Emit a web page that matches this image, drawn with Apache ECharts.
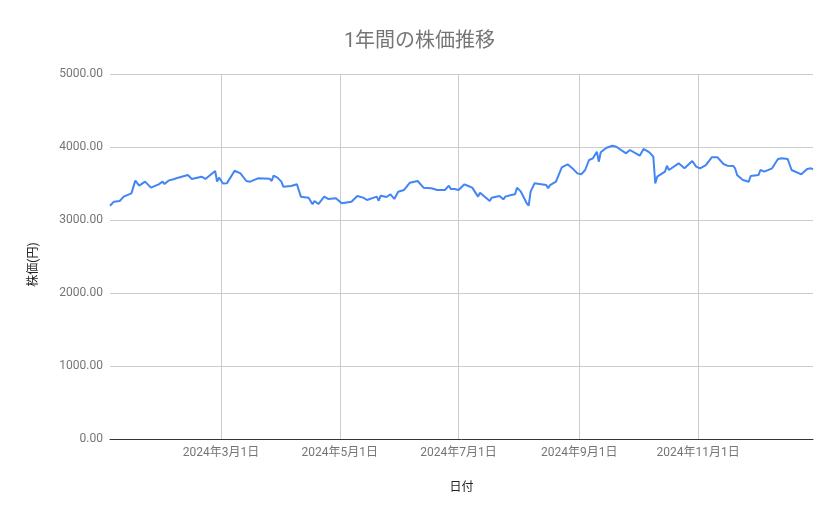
<!DOCTYPE html>
<html>
<head>
<meta charset="utf-8">
<script src="https://cdn.jsdelivr.net/npm/echarts@6/dist/echarts.min.js"></script>
<style>html,body{margin:0;padding:0;background:#fff}#c{width:839px;height:519px}</style>
</head>
<body>
<div id="c"></div>
<script>
const titleText = '1年間の株価推移';
const xName = '日付';
const yName = '株価(円)';
const dates = [
'2024-01-04','2024-01-06','2024-01-09','2024-01-11','2024-01-15','2024-01-17','2024-01-19','2024-01-22','2024-01-25','2024-01-29',
'2024-01-31','2024-02-01','2024-02-03','2024-02-06','2024-02-07','2024-02-08','2024-02-13','2024-02-15','2024-02-20','2024-02-22',
'2024-02-27','2024-02-28','2024-02-29','2024-03-02','2024-03-04','2024-03-08','2024-03-11','2024-03-14','2024-03-16','2024-03-20',
'2024-03-26','2024-03-27','2024-03-28','2024-03-30','2024-04-01','2024-04-02','2024-04-06','2024-04-09','2024-04-11','2024-04-15',
'2024-04-17','2024-04-18','2024-04-20','2024-04-23','2024-04-25','2024-04-29','2024-04-30','2024-05-02','2024-05-07','2024-05-10',
'2024-05-13','2024-05-14','2024-05-15','2024-05-20','2024-05-21','2024-05-22','2024-05-25','2024-05-27','2024-05-29','2024-05-31',
'2024-06-03','2024-06-06','2024-06-10','2024-06-13','2024-06-17','2024-06-18','2024-06-20','2024-06-24','2024-06-26','2024-06-27',
'2024-06-28','2024-06-29','2024-07-01','2024-07-04','2024-07-06','2024-07-08','2024-07-09','2024-07-11','2024-07-12','2024-07-17',
'2024-07-18','2024-07-22','2024-07-24','2024-07-25','2024-07-28','2024-07-29','2024-07-30','2024-07-31','2024-08-02','2024-08-05',
'2024-08-06','2024-08-07','2024-08-09','2024-08-15','2024-08-16','2024-08-17','2024-08-20','2024-08-23','2024-08-26','2024-08-29',
'2024-08-31','2024-09-01','2024-09-02','2024-09-04','2024-09-06','2024-09-08','2024-09-10','2024-09-11','2024-09-12','2024-09-15',
'2024-09-18','2024-09-19','2024-09-20','2024-09-25','2024-09-27','2024-09-30','2024-10-01','2024-10-02','2024-10-04','2024-10-07',
'2024-10-09','2024-10-10','2024-10-11','2024-10-15','2024-10-16','2024-10-17','2024-10-22','2024-10-25','2024-10-29','2024-10-31',
'2024-11-02','2024-11-05','2024-11-08','2024-11-11','2024-11-14','2024-11-16','2024-11-19','2024-11-20','2024-11-21','2024-11-24',
'2024-11-27','2024-11-28','2024-11-29','2024-12-02','2024-12-03','2024-12-05','2024-12-09','2024-12-10','2024-12-12','2024-12-14',
'2024-12-17','2024-12-19','2024-12-24','2024-12-25','2024-12-27','2024-12-29','2024-12-30'
];
const prices = [
3196,3251,3260,3320,3365,3539,3470,3525,3443,3489,
3525,3493,3539,3562,3539,3580,3616,3562,3593,3562,
3671,3525,3580,3500,3502,3675,3639,3534,3525,3571,
3566,3534,3607,3580,3525,3456,3466,3489,3320,3306,
3215,3260,3219,3320,3288,3297,3283,3229,3251,3329,
3306,3320,3274,3320,3264,3333,3315,3352,3288,3388,
3411,3511,3534,3443,3434,3456,3411,3411,3470,3425,
3443,3425,3411,3489,3466,3443,3470,3320,3374,3260,
3306,3329,3283,3320,3342,3365,3352,3443,3388,3229,
3196,3388,3502,3479,3434,3479,3525,3722,3763,3694,
3639,3630,3626,3685,3822,3845,3936,3799,3927,3990,
4018,4041,4004,3913,3959,3913,3927,3881,3973,3927,
3868,3502,3593,3662,3744,3685,3776,3708,3808,3731,
3708,3753,3858,3858,3767,3744,3740,3708,3616,3548,
3525,3603,3593,3616,3685,3662,3708,3694,3836,3845,
3836,3685,3626,3616,3699,3708,3694
];
const tickDates = ['2024-03-01','2024-05-01','2024-07-01','2024-09-01','2024-11-01'];
const yTicks = [0,1000,2000,3000,4000,5000];

function ts(s){const p=s.split('-').map(Number);return Date.UTC(p[0],p[1]-1,p[2]);}
const seriesData = dates.map((d,i)=>[ts(d),prices[i]]);
const tickVals = tickDates.map(ts);
const font = "Roboto, 'Noto Sans CJK JP', sans-serif";

const chart = echarts.init(document.getElementById('c'), null, {renderer:'canvas'});
chart.setOption({
  animation:false,
  backgroundColor:'#fff',
  textStyle:{fontFamily:font},
  title:{text:titleText,left:'center',top:27,textStyle:{fontFamily:font,fontSize:20,fontWeight:'normal',color:'#757575'}},
  grid:{left:110,right:26,top:74,bottom:80,containLabel:false},
  xAxis:{
    type:'value',
    min:seriesData[0][0],
    max:seriesData[seriesData.length-1][0],
    name:xName,nameLocation:'middle',nameGap:43,
    nameTextStyle:{fontFamily:font,fontSize:12,color:'#222'},
    axisLine:{show:true,lineStyle:{color:'#333',width:1}},
    axisTick:{show:false,customValues:tickVals},
    axisLabel:{customValues:tickVals,color:'#757575',fontSize:12,margin:8,fontFamily:font,showMinLabel:true,showMaxLabel:true,
      formatter:function(v){const d=new Date(v);return d.getUTCFullYear()+'年'+(d.getUTCMonth()+1)+'月'+d.getUTCDate()+'日';}},
    splitLine:{show:true,lineStyle:{color:'#cccccc',width:1}}
  },
  yAxis:{
    type:'value',min:yTicks[0],max:yTicks[yTicks.length-1],interval:1000,
    name:yName,nameLocation:'middle',nameGap:70,nameRotate:90,
    nameTextStyle:{fontFamily:font,fontSize:12,color:'#222',padding:[0,16,0,0]},
    axisLine:{show:false},axisTick:{show:false},
    axisLabel:{color:'#757575',fontSize:12,margin:7,fontFamily:font,formatter:v=>v.toFixed(2)},
    splitLine:{lineStyle:{color:'#cccccc',width:1}}
  },
  series:[{
    type:'line',data:seriesData,showSymbol:false,symbol:'none',
    lineStyle:{color:'#4285F4',width:2},
    itemStyle:{color:'#4285F4'}
  }]
});
</script>
</body>
</html>
